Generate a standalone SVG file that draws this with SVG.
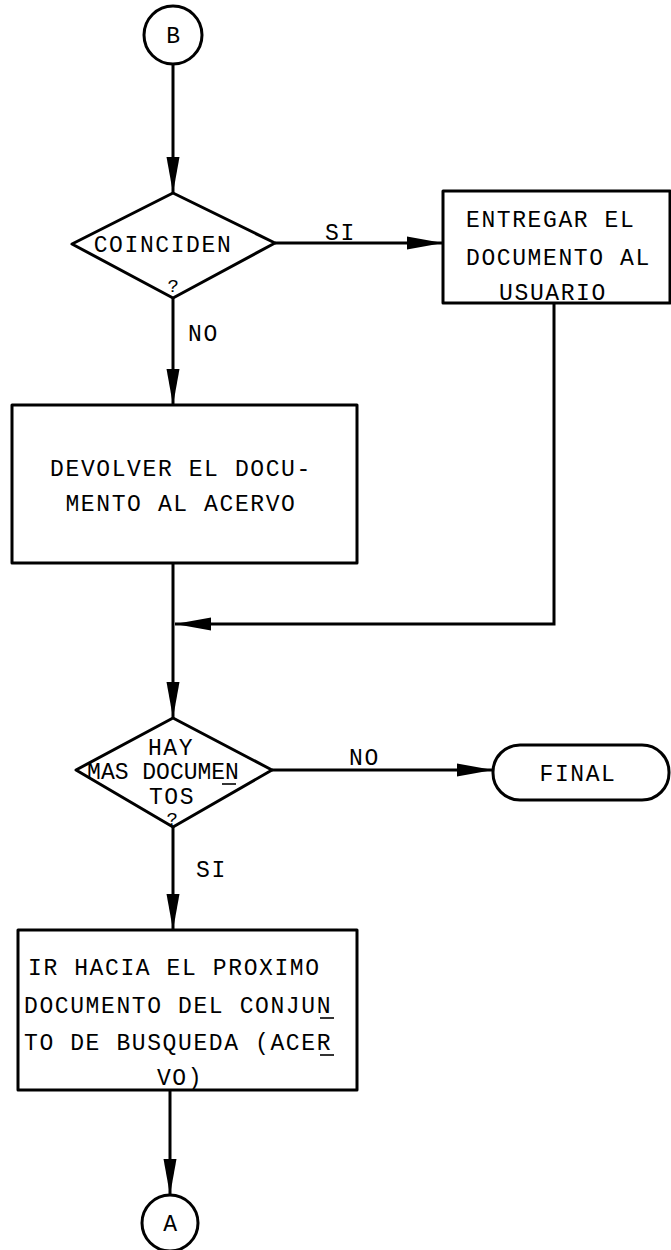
<svg xmlns="http://www.w3.org/2000/svg" width="671" height="1250" viewBox="0 0 671 1250">
<style>
.s{fill:none;stroke:#000;stroke-width:3;stroke-linejoin:round}
.c{fill:none;stroke:#000;stroke-width:3}
.t{font-family:"Liberation Mono","DejaVu Sans Mono",monospace;font-size:23px;letter-spacing:1.6px;fill:#000}
.m{text-anchor:middle}
.q{font-size:19px}
.u{fill:none;stroke:#000;stroke-width:1.6}
</style>
<defs>
<marker id="ah" markerUnits="userSpaceOnUse" markerWidth="40" markerHeight="16" viewBox="-38 -8 40 16" refX="0" refY="0" orient="auto">
<path d="M0,0 L-36,-6.5 L-36,6.5 Z" fill="#000"/>
</marker>
</defs>
<rect width="671" height="1250" fill="#fff"/>

<g id="connectors">
<line class="c" x1="173" y1="64" x2="173" y2="193" marker-end="url(#ah)"/>
<line class="c" x1="275" y1="243" x2="443" y2="243" marker-end="url(#ah)"/>
<line class="c" x1="173" y1="298" x2="173" y2="405" marker-end="url(#ah)"/>
<polyline class="c" points="554,303 554,624 175,624" marker-end="url(#ah)"/>
<line class="c" x1="173" y1="563" x2="173" y2="718" marker-end="url(#ah)"/>
<line class="c" x1="272" y1="770" x2="493" y2="770" marker-end="url(#ah)"/>
<line class="c" x1="173" y1="827" x2="173" y2="930" marker-end="url(#ah)"/>
<line class="c" x1="170" y1="1090" x2="170" y2="1195" marker-end="url(#ah)"/>
<text class="t" x="325" y="240">SI</text>
<text class="t" x="188" y="341">NO</text>
<text class="t" x="349" y="765">NO</text>
<text class="t" x="196" y="877">SI</text>
</g>

<g id="nodeB">
<circle class="s" cx="173" cy="35" r="29"/>
<text class="t m" x="174" y="43">B</text>
</g>

<g id="coinciden">
<polygon class="s" points="173,193 275,243 173,298 72,244"/>
<text class="t m" x="163" y="252">COINCIDEN</text>
<text class="t m q" x="174" y="292">?</text>
</g>

<g id="entregar">
<rect class="s" x="443" y="191" width="227" height="112"/>
<text class="t" x="466" y="227">ENTREGAR EL</text>
<text class="t" x="466" y="265">DOCUMENTO AL</text>
<text class="t m" x="553" y="300">USUARIO</text>
</g>

<g id="devolver">
<rect class="s" x="12" y="405" width="345" height="158"/>
<text class="t m" x="181" y="476">DEVOLVER EL DOCU-</text>
<text class="t m" x="181" y="511">MENTO AL ACERVO</text>
</g>

<g id="hay">
<polygon class="s" points="173,718 272,770 173,827 76,770"/>
<text class="t m" x="171" y="755">HAY</text>
<text class="t m" x="163" y="779" style="letter-spacing:0px">MAS DOCUMEN</text>
<line class="u" x1="222" y1="784" x2="236" y2="784"/>
<text class="t m" x="172" y="804">TOS</text>
<text class="t m q" x="173" y="825">?</text>
</g>

<g id="final">
<rect class="s" x="493" y="745" width="176" height="55" rx="27" ry="27"/>
<text class="t m" x="578" y="781">FINAL</text>
</g>

<g id="irhacia">
<rect class="s" x="18" y="930" width="339" height="160"/>
<text class="t" x="28" y="975">IR HACIA EL PROXIMO</text>
<text class="t" x="24" y="1013">DOCUMENTO DEL CONJUN</text>
<line class="u" x1="320" y1="1018" x2="334" y2="1018"/>
<text class="t" x="24" y="1050">TO DE BUSQUEDA (ACER</text>
<line class="u" x1="320" y1="1055" x2="334" y2="1055"/>
<text class="t m" x="180" y="1085">VO)</text>
</g>

<g id="nodeA">
<circle class="s" cx="170" cy="1223" r="28"/>
<text class="t m" x="171" y="1231">A</text>
</g>
</svg>
